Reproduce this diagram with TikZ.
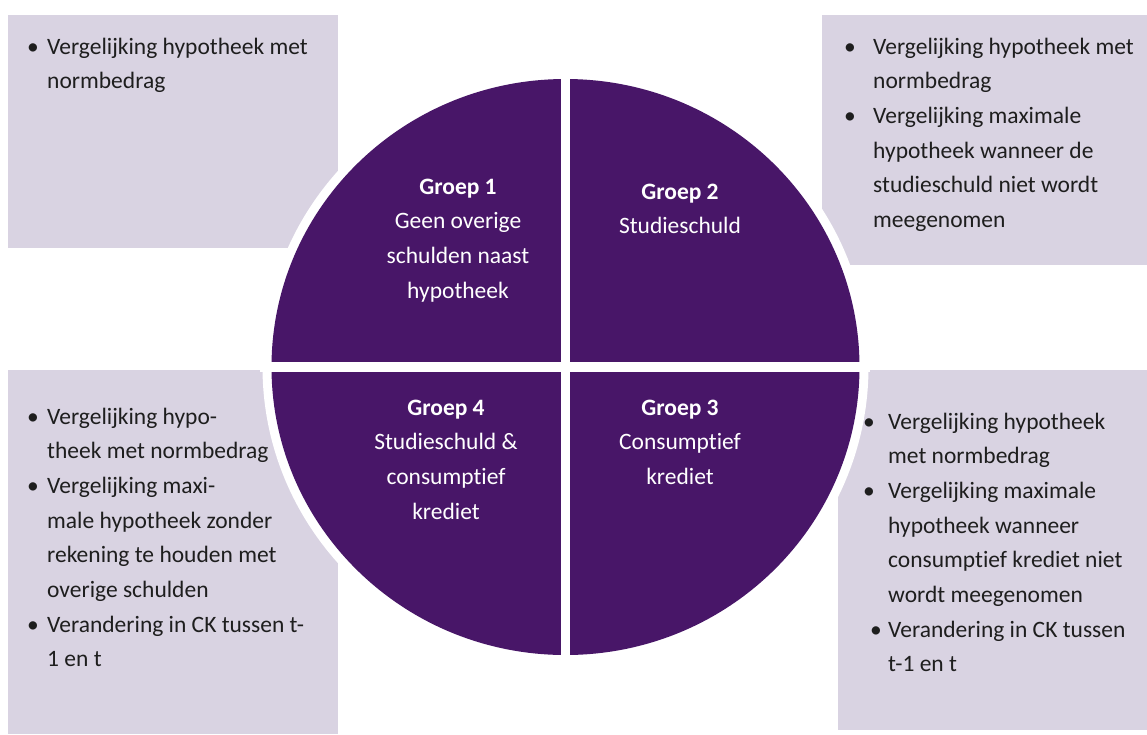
\documentclass[tikz,border=0pt]{standalone}
\usepackage{fontspec}
\setmainfont[Ligatures=NoCommon]{Carlito}
\usepackage{array}
\usetikzlibrary{positioning}
\definecolor{groepcolor}{RGB}{72,22,104}
\definecolor{vlakcolor}{RGB}{217,211,226}
\definecolor{tekstcolor}{RGB}{30,30,30}

\begin{document}
\begin{tikzpicture}[
    x=1pt, y=-1pt,
    vlak/.style={fill=vlakcolor, draw=none},
    lijst/.style={anchor=base west, inner sep=0pt, text=tekstcolor, font=\fontsize{23.5}{34.7}\selectfont},
    groep/.style={anchor=base, inner sep=0pt, text=white, font=\fontsize{23.5}{34.7}\selectfont}
]
    \useasboundingbox (0,0) rectangle (1147,734);

    % lichte vlakken achter de cirkel
    \path[vlak] (8,15) rectangle (338,248);
    \path[vlak] (822,15) rectangle (1147,265);
    \path[vlak] (8,370) rectangle (338,734);
    \path[vlak] (838,370) rectangle (1147,730);

    % cirkel met witte rand en kruis
    \fill[white] (565.5,367) ellipse [x radius=303pt, y radius=297pt];
    \fill[groepcolor] (565.5,367) ellipse [x radius=294pt, y radius=288pt];
    \fill[white] (561,60) rectangle (570,675);
    \fill[white] (260,362) rectangle (870,372);

    % teksten in de kwadranten
    \node[groep] (g1) at (458,194) {\begin{tabular}[t]{@{}c@{}}\textbf{Groep 1}\\Geen overige\\schulden naast\\hypotheek\end{tabular}};
    \node[groep] (g2) at (680,199) {\begin{tabular}[t]{@{}c@{}}\textbf{Groep 2}\\Studieschuld\end{tabular}};
    \node[groep] (g3) at (680,415) {\begin{tabular}[t]{@{}c@{}}\textbf{Groep 3}\\Consumptief\\krediet\end{tabular}};
    \node[groep] (g4) at (446,415) {\begin{tabular}[t]{@{}c@{}}\textbf{Groep 4}\\Studieschuld \&\\consumptief\\krediet\end{tabular}};

    % opsommingen in de vlakken
    \node[lijst] (l1) at (27,54) {\begin{tabular}[t]{@{}p{20pt}@{}l@{}}
        \textbullet & Vergelijking hypotheek met\\
                    & normbedrag
    \end{tabular}};
    \node[lijst] (l2) at (844,54) {\begin{tabular}[t]{@{}p{29pt}@{}l@{}}
        \textbullet & Vergelijking hypotheek met\\
                    & normbedrag\\
        \textbullet & Vergelijking maximale\\
                    & hypotheek wanneer de\\
                    & studieschuld niet wordt\\
                    & meegenomen
    \end{tabular}};
    \node[lijst] (l4) at (27,424) {\begin{tabular}[t]{@{}p{20pt}@{}l@{}}
        \textbullet & Vergelijking hypo-\\
                    & theek met normbedrag\\
        \textbullet & Vergelijking maxi-\\
                    & male hypotheek zonder\\
                    & rekening te houden met\\
                    & overige schulden\\
        \textbullet & Verandering in CK tussen t-\\
                    & 1 en t
    \end{tabular}};
    \node[lijst] (l3) at (863,429) {\begin{tabular}[t]{@{}p{25pt}@{}l@{}}
        \textbullet & Vergelijking hypotheek\\
                    & met normbedrag\\
        \textbullet & Vergelijking maximale\\
                    & hypotheek wanneer\\
                    & consumptief krediet niet\\
                    & wordt meegenomen\\
        \hspace{7pt}\textbullet & Verandering in CK tussen\\
                    & t-1 en t
    \end{tabular}};
\end{tikzpicture}
\end{document}
